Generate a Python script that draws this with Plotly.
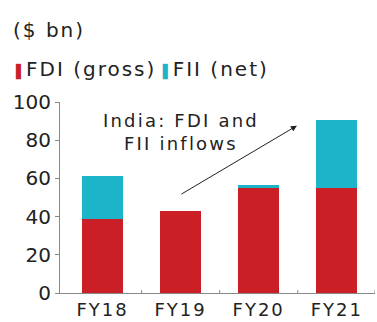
import plotly.graph_objects as go

categories = ["FY18", "FY19", "FY20", "FY21"]
fdi_gross = [39, 43, 55, 54.8]
fii_net = [22.3, 0, 1.5, 36]
y_ticks = [0, 20, 40, 60, 80, 100]

FONT = "DejaVu Sans, sans-serif"
TXT = "#222222"
RED = "#CB1F27"
CYAN = "#1CB4C8"
xs = list(range(len(categories)))


def wide(s, sp):
    return f"<span style='letter-spacing:{sp}px'>{s}</span>"


fig = go.Figure()
fig.add_trace(go.Bar(x=xs, y=fdi_gross, name="FDI (gross)", marker_color=RED,
                     width=0.53, marker_line_width=0))
fig.add_trace(go.Bar(x=xs, y=fii_net, name="FII (net)", marker_color=CYAN,
                     width=0.53, marker_line_width=0))

fig.update_layout(
    barmode="stack",
    width=377, height=322,
    margin=dict(l=60, r=2, t=102, b=29),
    paper_bgcolor="white", plot_bgcolor="white",
    font=dict(family=FONT, color=TXT, size=20),
    showlegend=False,
    xaxis=dict(range=[-0.545, 3.49], tickmode="array", tickvals=xs,
               ticktext=[wide(c, 2) for c in categories], automargin=False,
               showline=True, linecolor="#888", linewidth=1, ticks="",
               showgrid=False, zeroline=False, tickfont=dict(size=18, color=TXT)),
    yaxis=dict(range=[0, 100], tickvals=y_ticks, showline=True, linecolor="#888",
               linewidth=1, ticks="outside", ticklen=4, tickcolor="#888", showgrid=False,
               zeroline=False, automargin=False, tickfont=dict(size=20, color=TXT)),
)

# boundary ticks on x axis
for b in [0.5, 1.5, 2.5, 3.49]:
    fig.add_shape(type="line", xref="x", yref="paper", x0=b, x1=b, y0=0, y1=0.015,
                  line=dict(color="#888", width=1))

# Title and legend
fig.add_annotation(xref="paper", yref="paper", x=-49/315, y=(322-30-29)/191,
                   xanchor="left", yanchor="middle", showarrow=False,
                   text=wide("($ bn)", 2), font=dict(size=20, color=TXT))
fig.add_annotation(xref="paper", yref="paper", x=-47/315, y=(322-69-29)/191,
                   xanchor="left", yanchor="middle", showarrow=False,
                   text=f"<span style='color:{RED};font-size:13px'>▌</span>"
                        + wide("FDI (gross)", 2) + " "
                        + f"<span style='color:{CYAN};font-size:13px'>▌</span>"
                        + wide("FII (net)", 2),
                   font=dict(size=20, color=TXT))

# Inset label and arrow
fig.add_annotation(x=1.0, y=84.5, xref="x", yref="y", showarrow=False,
                   text=wide("India: FDI and", 2.2) + "<br>" + wide("FII inflows", 2.2),
                   align="center", font=dict(size=18, color=TXT))
fig.add_annotation(x=2.49, y=87.6, ax=0.99, ay=51.3, xref="x", yref="y",
                   axref="x", ayref="y", showarrow=True, arrowhead=2, arrowsize=1.2,
                   arrowwidth=1, arrowcolor="#222", text="")

fig.write_html("out.html")
